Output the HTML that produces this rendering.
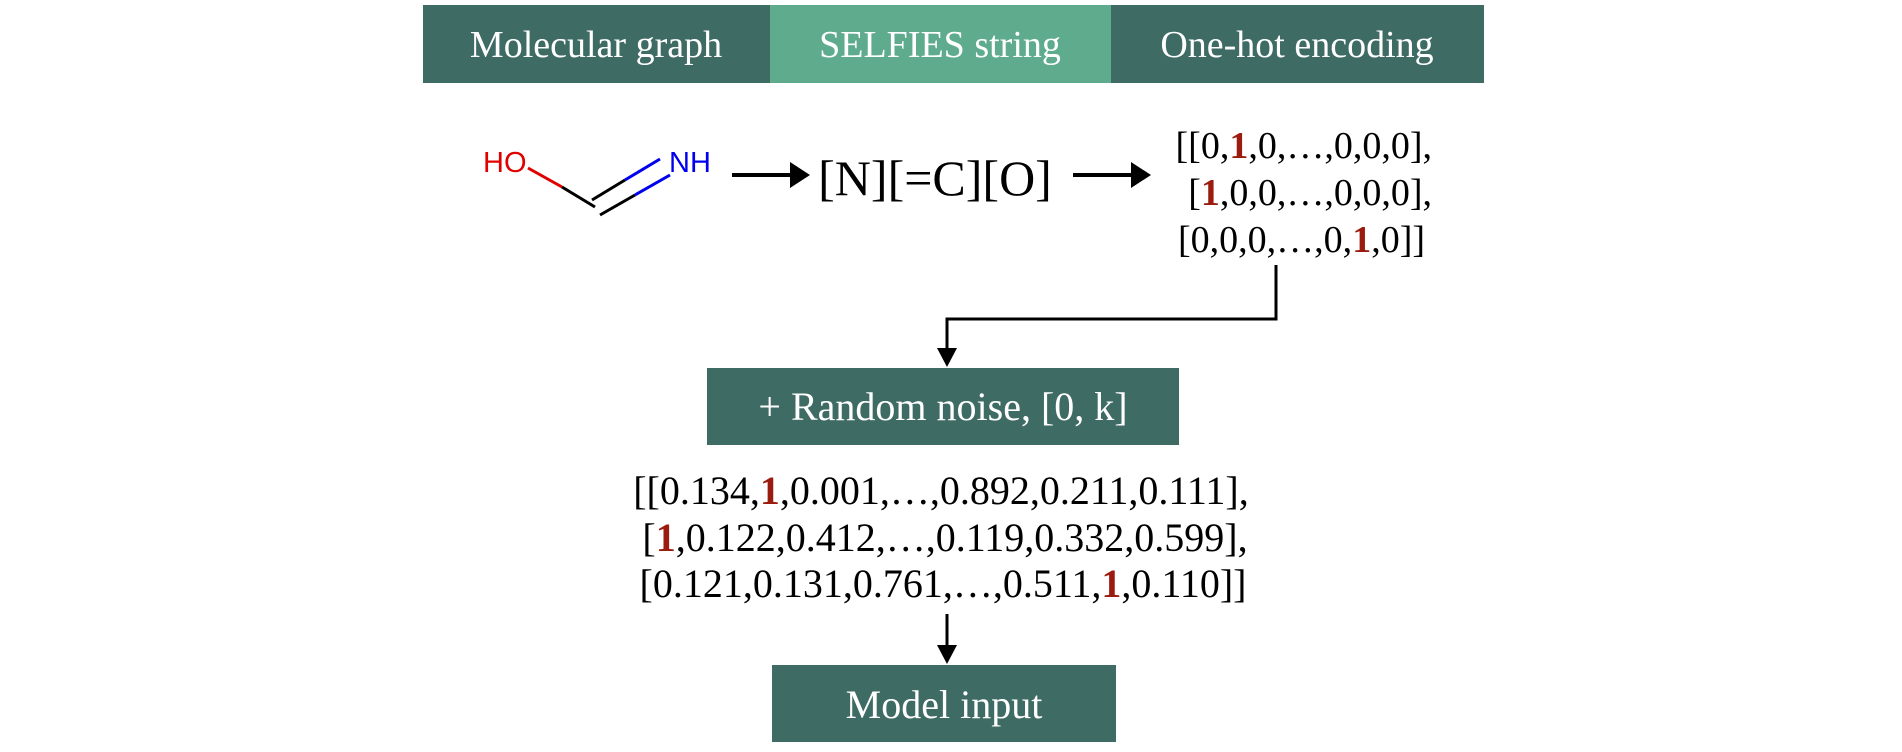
<!DOCTYPE html>
<html><head><meta charset="utf-8"><style>
html,body{margin:0;padding:0;background:#fff;}
svg{display:block}
text{font-family:"Liberation Serif",serif;}
</style></head><body>
<svg width="1902" height="752" viewBox="0 0 1902 752" xmlns="http://www.w3.org/2000/svg">
<defs><marker id="ah" markerWidth="10" markerHeight="10" refX="9" refY="5" orient="auto" markerUnits="userSpaceOnUse"><path d="M0,0 L10,5 L0,10 z" fill="#000"/></marker></defs>
<rect x="423" y="5" width="347" height="78" fill="#3e6b64"/>
<rect x="770" y="5" width="341" height="78" fill="#5fab8e"/>
<rect x="1111" y="5" width="373" height="78" fill="#3e6b64"/>
<g fill="#fff" font-size="38" text-anchor="middle">
<text x="596" y="57">Molecular graph</text>
<text x="940" y="57">SELFIES string</text>
<text x="1297" y="57">One-hot encoding</text>
</g>
<g font-family="Liberation Sans,sans-serif" font-size="29">
<text x="483" y="172" fill="#e00000" style="font-family:'Liberation Sans',sans-serif">HO</text>
<text x="669" y="172" fill="#0000ee" style="font-family:'Liberation Sans',sans-serif">NH</text>
</g>
<g stroke-width="3" fill="none">
<line x1="528" y1="168" x2="562" y2="187" stroke="#e00000"/>
<line x1="562" y1="187" x2="595" y2="207" stroke="#000"/>
<line x1="600" y1="215" x2="635" y2="195" stroke="#000"/>
<line x1="635" y1="195" x2="670" y2="175" stroke="#0000ee"/>
<line x1="592" y1="200" x2="625" y2="180" stroke="#000"/>
<line x1="625" y1="180" x2="660" y2="159" stroke="#0000ee"/>
</g>
<g stroke="#000" stroke-width="4" fill="none">
<line x1="732" y1="175" x2="806" y2="175" marker-end="url(#ah)"/>
<line x1="1073" y1="175" x2="1147" y2="175" marker-end="url(#ah)"/>
</g>
<path d="M730,163 L746,175 L730,187" fill="none"/>
<polygon points="790,162 810,175 790,188" fill="#000"/>
<polygon points="1131,162 1151,175 1131,188" fill="#000"/>
<text x="935" y="195" font-size="50" text-anchor="middle">[N][=C][O]</text>
<g font-size="38" text-anchor="end">
<text x="1432" y="158">[[0,<tspan fill="#9b1c0e" font-weight="bold">1</tspan>,0,…,0,0,0],</text>
<text x="1432" y="205">[<tspan fill="#9b1c0e" font-weight="bold">1</tspan>,0,0,…,0,0,0],</text>
<text x="1425" y="252">[0,0,0,…,0,<tspan fill="#9b1c0e" font-weight="bold">1</tspan>,0]]</text>
</g>
<path d="M1276,265 L1276,319 L947,319 L947,352" stroke="#000" stroke-width="3" fill="none"/>
<polygon points="937,348 957,348 947,367" fill="#000"/>
<rect x="707" y="368" width="472" height="77" fill="#3e6b64"/>
<text x="943" y="420" font-size="40" fill="#fff" text-anchor="middle">+ Random noise, [0, k]</text>
<g font-size="40" text-anchor="middle">
<text x="941" y="504">[[0.134,<tspan fill="#9b1c0e" font-weight="bold">1</tspan>,0.001,…,0.892,0.211,0.111],</text>
<text x="945" y="551">[<tspan fill="#9b1c0e" font-weight="bold">1</tspan>,0.122,0.412,…,0.119,0.332,0.599],</text>
<text x="943" y="597">[0.121,0.131,0.761,…,0.511,<tspan fill="#9b1c0e" font-weight="bold">1</tspan>,0.110]]</text>
</g>
<line x1="947" y1="614" x2="947" y2="648" stroke="#000" stroke-width="3"/>
<polygon points="937,645 957,645 947,664" fill="#000"/>
<rect x="772" y="665" width="344" height="77" fill="#3e6b64"/>
<text x="944" y="718" font-size="40" fill="#fff" text-anchor="middle">Model input</text>
</svg>
</body></html>
